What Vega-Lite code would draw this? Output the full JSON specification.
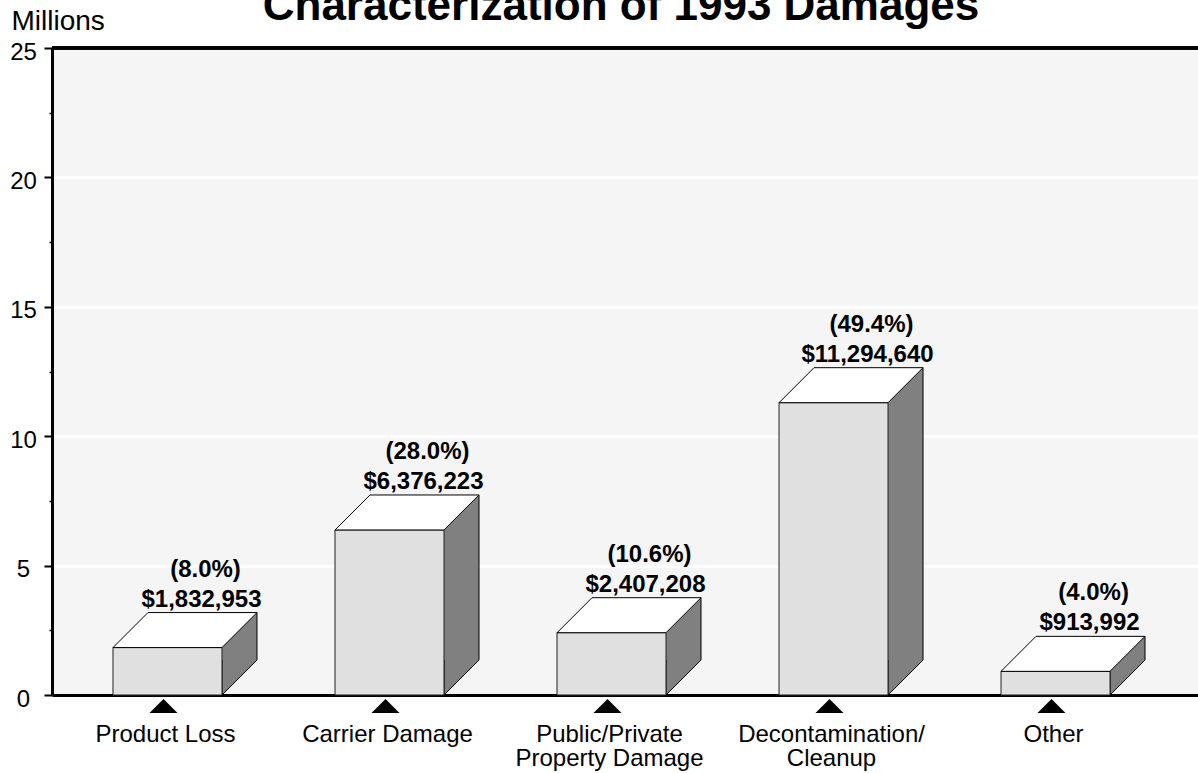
{
  "$schema": "https://vega.github.io/schema/vega-lite/v6.json",
  "width": 1146,
  "height": 647,
  "autosize": "none",
  "padding": {"left": 52, "top": 48, "right": 0, "bottom": 78},
  "background": "white",
  "config": {
    "font": "Liberation Sans",
    "view": {"fill": "#f5f5f5", "stroke": null}
  },
  "title": {
    "text": "Characterization of 1993 Damages",
    "fontSize": 44,
    "fontWeight": "bold",
    "font": "Liberation Sans",
    "color": "black",
    "anchor": "middle",
    "baseline": "alphabetic",
    "offset": -57,
    "dx": -4
  },
  "data": {
    "values": [
      {"category": "Product Loss", "amount": 1832953, "pct": "(8.0%)"},
      {"category": "Carrier Damage", "amount": 6376223, "pct": "(28.0%)"},
      {"category": "Public/Private Property Damage", "amount": 2407208, "pct": "(10.6%)"},
      {"category": "Decontamination/Cleanup", "amount": 11294640, "pct": "(49.4%)"},
      {"category": "Other", "amount": 913992, "pct": "(4.0%)"}
    ]
  },
  "layer": [
    {
      "mark": {"type": "bar", "width": 35, "xOffset": 72, "yOffset": -35, "y2Offset": -34, "fill": "#808080", "strokeWidth": 0},
      "encoding": {
        "x": {
          "field": "category", "type": "nominal", "sort": null,
          "scale": {"paddingInner": 0, "paddingOuter": 0.081, "align": 0.125},
          "axis": {
            "title": null,
            "domainColor": "black",
            "domainWidth": 3,
            "ticks": false,
            "labelAngle": 0,
            "labelFontSize": 24,
            "labelColor": "black",
            "labelPadding": 27,
            "labelOffset": -2,
            "labelLineHeight": 24,
            "labelLimit": 0,
            "labelOverlap": false,
            "labelExpr": "datum.label == 'Public/Private Property Damage' ? ['Public/Private', 'Property Damage'] : datum.label == 'Decontamination/Cleanup' ? ['Decontamination/', 'Cleanup'] : datum.label"
          }
        },
        "y": {
          "field": "amount", "type": "quantitative",
          "scale": {"domain": [0, 25000000], "nice": false},
          "axis": {
            "title": "Millions",
            "titleAngle": 0,
            "titleAlign": "left",
            "titleBaseline": "alphabetic",
            "titleX": -41,
            "titleY": -19,
            "titleFontSize": 28,
            "titleFontWeight": "normal",
            "titleColor": "black",
            "values": [0, 2500000, 5000000, 7500000, 10000000, 12500000, 15000000, 17500000, 20000000, 22500000, 25000000],
            "labelExpr": "datum.value % 5000000 === 0 ? format(datum.value / 1000000, 'd') : ''",
            "labelFontSize": 24,
            "labelColor": "black",
            "labelAlign": "center",
            "labelPadding": 21,
            "labelOffset": 4,
            "labelOverlap": false,
            "domainColor": "black",
            "domainWidth": 3,
            "tickColor": "black",
            "tickSize": {"condition": {"test": "datum.value % 5000000 === 0", "value": 8}, "value": 3},
            "tickWidth": {"condition": {"test": "datum.value % 5000000 === 0", "value": 2}, "value": 1.5},
            "grid": true,
            "gridColor": "white",
            "gridWidth": 3,
            "gridOpacity": {"condition": {"test": "datum.value % 5000000 === 0 && datum.value > 0 && datum.value < 25000000", "value": 1}, "value": 0}
          }
        },
        "y2": {"datum": 0}
      }
    },
    {
      "mark": {"type": "rule", "xOffset": 89.5, "yOffset": -35, "y2Offset": -35, "stroke": "black", "strokeWidth": 1},
      "encoding": {
        "x": {"field": "category", "type": "nominal", "sort": null},
        "y": {"field": "amount", "type": "quantitative"},
        "y2": {"datum": 0}
      }
    },
    {
      "mark": {"type": "point", "shape": "M89.5,-35L54.5,0L54.5,-35", "size": 4, "filled": true, "fill": "#808080", "stroke": "black", "strokeWidth": 1, "opacity": 1},
      "encoding": {
        "x": {"field": "category", "type": "nominal", "sort": null},
        "y": {"datum": 0, "type": "quantitative"}
      }
    },
    {
      "mark": {"type": "bar", "width": 109, "fill": "#e0e0e0", "stroke": "#222222", "strokeWidth": 1},
      "encoding": {
        "x": {"field": "category", "type": "nominal", "sort": null},
        "y": {"field": "amount", "type": "quantitative"},
        "y2": {"datum": 0}
      }
    },
    {
      "mark": {"type": "point", "shape": "M-54.5,0L54.5,0L89.5,-35L-19.5,-35Z", "size": 4, "filled": true, "fill": "white", "stroke": "black", "strokeWidth": 1, "opacity": 1},
      "encoding": {
        "x": {"field": "category", "type": "nominal", "sort": null},
        "y": {"field": "amount", "type": "quantitative"}
      }
    },
    {
      "mark": {"type": "point", "shape": "M-14,18L14,18L0,4Z", "size": 4, "filled": true, "fill": "black", "stroke": null, "opacity": 1, "xOffset": -4},
      "encoding": {
        "x": {"field": "category", "type": "nominal", "sort": null},
        "y": {"datum": 0, "type": "quantitative"}
      }
    },
    {
      "mark": {"type": "text", "dx": 34, "dy": -41, "baseline": "alphabetic", "align": "center", "fontSize": 24, "fontWeight": "bold", "color": "black"},
      "encoding": {
        "x": {"field": "category", "type": "nominal", "sort": null},
        "y": {"field": "amount", "type": "quantitative"},
        "text": {"field": "amount", "type": "quantitative", "format": "$,d"}
      }
    },
    {
      "mark": {"type": "text", "dx": 38, "dy": -71, "baseline": "alphabetic", "align": "center", "fontSize": 24, "fontWeight": "bold", "color": "black"},
      "encoding": {
        "x": {"field": "category", "type": "nominal", "sort": null},
        "y": {"field": "amount", "type": "quantitative"},
        "text": {"field": "pct", "type": "nominal"}
      }
    },
    {
      "mark": {"type": "rule", "stroke": "black", "strokeWidth": 3},
      "encoding": {
        "y": {"datum": 25000000, "type": "quantitative"}
      }
    }
  ]
}
